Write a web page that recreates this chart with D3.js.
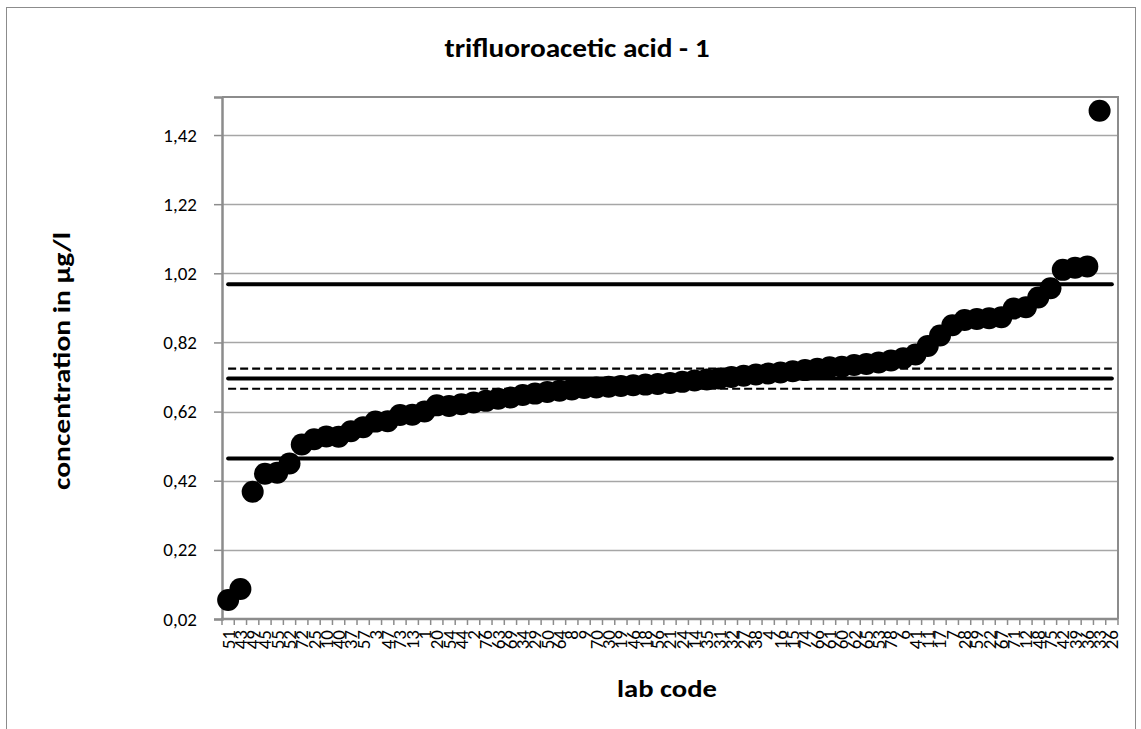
<!DOCTYPE html>
<html>
<head>
<meta charset="utf-8">
<script src="https://cdn.jsdelivr.net/npm/d3@7"></script>
<style>
  html, body { margin: 0; padding: 0; background: #fff; }
  svg { display: block; }
  text { font-family: Carlito, Calibri, Lato, "Open Sans", sans-serif; fill: #000; }
</style>
</head>
<body>
<svg id="chart" width="1141" height="729"></svg>
<script>
// Lab codes, ordered by reported concentration
const labCodes = ["51","43","49","45","55","52","72","25","10","40","37","57","3","47","73","13","1","20","54","44","2","76","63","69","34","29","50","64","8","9","70","30","19","46","18","56","21","24","14","35","31","32","27","38","4","16","15","74","66","61","60","62","65","53","78","6","41","11","17","7","28","59","22","67","71","12","48","75","42","39","36","33","26"];

// Reported concentrations in µg/l (last lab lies outside the plotted range)
const concentrations = [0.075,0.107,0.388,0.44,0.443,0.47,0.525,0.54,0.548,0.547,0.563,0.575,0.591,0.592,0.61,0.611,0.62,0.638,0.636,0.641,0.646,0.651,0.657,0.661,0.668,0.672,0.677,0.68,0.684,0.688,0.69,0.692,0.694,0.696,0.698,0.70,0.703,0.706,0.71,0.713,0.716,0.72,0.724,0.727,0.73,0.733,0.737,0.74,0.744,0.748,0.75,0.755,0.758,0.762,0.768,0.774,0.785,0.81,0.84,0.87,0.885,0.888,0.89,0.893,0.918,0.922,0.95,0.977,1.03,1.036,1.04,1.49,null];

// Assigned value, its uncertainty band and the tolerance limits
const assignedValue = 0.716;
const uncertaintyBand = [0.744, 0.686];
const toleranceLimits = [0.988, 0.484];

const yTicks = [0.02,0.22,0.42,0.62,0.82,1.02,1.22,1.42];

const svg = d3.select("#chart");
const plot = { left: 222, right: 1118, top: 97, bottom: 619 };

// outer chart border
svg.append("rect")
  .attr("x", 6.5).attr("y", 7.5).attr("width", 1129).attr("height", 740)
  .attr("fill", "#fff").attr("stroke", "#8c8c8c").attr("stroke-width", 1);

const x = d3.scaleBand().domain(labCodes).range([plot.left, plot.right]).padding(0);
const y = d3.scaleLinear().domain([0.02, 1.53]).range([plot.bottom, plot.top]);

// horizontal gridlines
svg.append("g").selectAll("line").data(yTicks.slice(1)).join("line")
  .attr("x1", plot.left).attr("x2", plot.right)
  .attr("y1", d => Math.round(y(d)) + 0.5).attr("y2", d => Math.round(y(d)) + 0.5)
  .attr("stroke", "#a6a6a6").attr("stroke-width", 1.5);

// plot area frame (top and right)
svg.append("path")
  .attr("d", `M${plot.left},${plot.top}H${plot.right}V${plot.bottom}`)
  .attr("fill", "none").attr("stroke", "#8c8c8c").attr("stroke-width", 2);

// y axis
const yAxis = svg.append("g")
  .attr("transform", `translate(${plot.left},0)`)
  .call(d3.axisLeft(y).tickValues(yTicks).tickSize(8).tickPadding(17)
    .tickFormat(d => d.toFixed(2).replace(".", ",")));
yAxis.select(".domain").attr("stroke", "#8c8c8c").attr("stroke-width", 2.5);
yAxis.selectAll(".tick line").attr("stroke", "#8c8c8c").attr("stroke-width", 1.5);
yAxis.selectAll(".tick text").style("font-size", "19px").attr("font-family", null);

// x axis: labels at category centres, tick marks at category boundaries
const xAxis = svg.append("g")
  .attr("transform", `translate(0,${plot.bottom})`)
  .call(d3.axisBottom(x).tickSize(0).tickPadding(0));
xAxis.select(".domain").remove();
xAxis.selectAll(".tick text")
  .style("font-size", "19px").attr("font-family", null)
  .attr("text-anchor", "end")
  .attr("transform", "translate(0,11) rotate(-90)")
  .attr("x", 0).attr("y", 0).attr("dy", "0.34em");

const boundaries = labCodes.map(d => x(d)).concat([plot.right]);
svg.append("g").selectAll("line").data(boundaries).join("line")
  .attr("x1", d => d).attr("x2", d => d)
  .attr("y1", plot.bottom).attr("y2", plot.bottom + 6)
  .attr("stroke", "#8c8c8c").attr("stroke-width", 1.5);
svg.append("line")
  .attr("x1", plot.left - 1).attr("x2", plot.right)
  .attr("y1", plot.bottom).attr("y2", plot.bottom)
  .attr("stroke", "#8c8c8c").attr("stroke-width", 2.5);

// reference lines spanning first to last category
const xFirst = x(labCodes[0]) + x.bandwidth() / 2;
const xLast = x(labCodes[labCodes.length - 1]) + x.bandwidth() / 2;
const refLine = (v, width, dash) => svg.append("line")
  .attr("x1", xFirst).attr("x2", xLast)
  .attr("y1", y(v)).attr("y2", y(v))
  .attr("stroke", "#000").attr("stroke-width", width)
  .attr("stroke-dasharray", dash);

toleranceLimits.forEach(v => refLine(v, 4, null).attr("stroke-linecap", "round"));
refLine(assignedValue, 4, null).attr("stroke-linecap", "round");
uncertaintyBand.forEach(v => refLine(v, 2.2, "8,4"));

// lab results
const pts = labCodes.map((c, i) => ({ code: c, value: concentrations[i] }))
  .filter(d => d.value !== null && d.value <= y.domain()[1]);
svg.append("g").selectAll("circle").data(pts).join("circle")
  .attr("cx", d => x(d.code) + x.bandwidth() / 2)
  .attr("cy", d => y(d.value))
  .attr("r", 11)
  .attr("fill", "#000");

// titles
svg.append("text")
  .attr("x", 577).attr("y", 57)
  .attr("text-anchor", "middle")
  .attr("textLength", 265).attr("lengthAdjust", "spacingAndGlyphs")
  .style("font-size", "27px").style("font-weight", "bold")
  .text("trifluoroacetic acid - 1");

svg.append("text")
  .attr("transform", `translate(70,361) rotate(-90)`)
  .attr("text-anchor", "middle")
  .attr("textLength", 258).attr("lengthAdjust", "spacingAndGlyphs")
  .style("font-size", "25px").style("font-weight", "bold")
  .text("concentration in µg/l");

svg.append("text")
  .attr("x", 667).attr("y", 697)
  .attr("text-anchor", "middle")
  .attr("textLength", 100).attr("lengthAdjust", "spacingAndGlyphs")
  .style("font-size", "25px").style("font-weight", "bold")
  .text("lab code");
</script>
</body>
</html>
